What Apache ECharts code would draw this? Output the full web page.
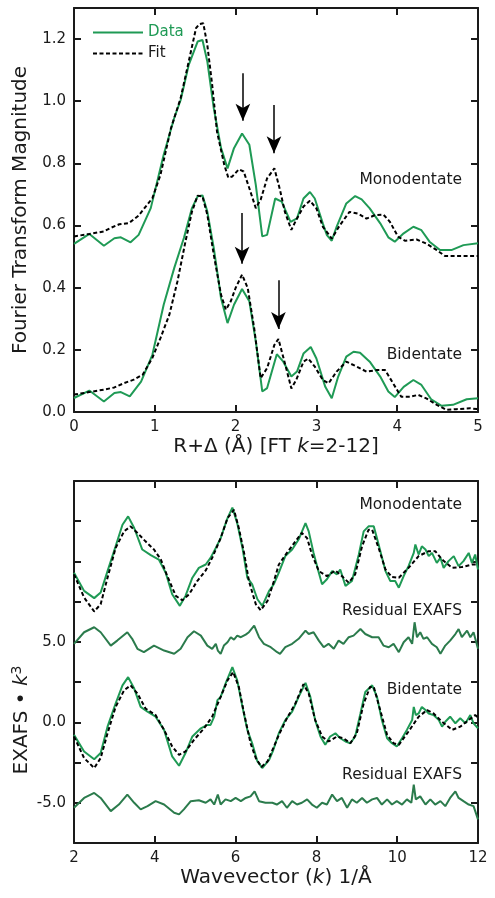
<!DOCTYPE html>
<html>
<head>
<meta charset="utf-8">
<title>FT magnitude and EXAFS fits</title>
<script src="https://cdn.jsdelivr.net/npm/echarts/dist/echarts.min.js"></script>
<style>
  html, body { margin: 0; padding: 0; background: #fff; }
  #container { width: 495px; height: 898px; }
</style>
</head>
<body>
<div id="container"></div>
<script>
// ---- data ----
// top panel: R (Å) vs |FT|
var ftMonoData = [[0,0.541],[0.19,0.573],[0.37,0.535],[0.50,0.559],[0.58,0.562],[0.70,0.546],[0.80,0.570],[0.95,0.656],[1.11,0.828],[1.24,0.946],[1.32,1.004],[1.42,1.117],[1.53,1.192],[1.59,1.197],[1.65,1.128],[1.73,0.977],[1.82,0.849],[1.90,0.784],[1.98,0.849],[2.08,0.896],[2.17,0.860],[2.25,0.731],[2.33,0.565],[2.39,0.570],[2.49,0.687],[2.57,0.677],[2.68,0.612],[2.76,0.623],[2.84,0.687],[2.92,0.708],[2.98,0.687],[3.08,0.606],[3.13,0.569],[3.19,0.551],[3.25,0.596],[3.37,0.671],[3.48,0.695],[3.56,0.684],[3.66,0.655],[3.79,0.607],[3.89,0.562],[3.97,0.548],[4.08,0.575],[4.20,0.596],[4.30,0.585],[4.40,0.548],[4.53,0.521],[4.67,0.521],[4.82,0.537],[5.00,0.543]];
var ftMonoFit = [[0,0.565],[0.19,0.573],[0.37,0.581],[0.45,0.592],[0.56,0.604],[0.68,0.608],[0.80,0.632],[0.97,0.688],[1.07,0.763],[1.20,0.913],[1.32,1.010],[1.42,1.128],[1.51,1.235],[1.55,1.248],[1.60,1.251],[1.65,1.181],[1.71,1.053],[1.77,0.902],[1.86,0.795],[1.91,0.754],[1.96,0.758],[2.04,0.781],[2.10,0.774],[2.17,0.720],[2.25,0.656],[2.31,0.683],[2.39,0.752],[2.48,0.784],[2.55,0.714],[2.61,0.644],[2.69,0.586],[2.75,0.618],[2.84,0.661],[2.92,0.680],[3.00,0.655],[3.08,0.596],[3.19,0.558],[3.29,0.601],[3.41,0.644],[3.52,0.638],[3.62,0.622],[3.72,0.633],[3.83,0.635],[3.91,0.612],[4.01,0.564],[4.10,0.551],[4.24,0.555],[4.36,0.542],[4.49,0.521],[4.59,0.502],[4.78,0.502],[5.00,0.502]];
var ftBiData = [[0,0.045],[0.19,0.069],[0.37,0.034],[0.50,0.061],[0.58,0.064],[0.69,0.050],[0.83,0.098],[0.97,0.184],[1.11,0.345],[1.24,0.463],[1.36,0.560],[1.46,0.656],[1.53,0.694],[1.59,0.697],[1.65,0.645],[1.73,0.527],[1.82,0.366],[1.90,0.286],[1.98,0.345],[2.08,0.396],[2.17,0.356],[2.25,0.227],[2.33,0.066],[2.39,0.077],[2.51,0.186],[2.59,0.162],[2.69,0.114],[2.76,0.130],[2.84,0.188],[2.93,0.209],[3.00,0.172],[3.11,0.081],[3.19,0.044],[3.27,0.114],[3.37,0.178],[3.46,0.194],[3.54,0.191],[3.66,0.162],[3.79,0.114],[3.89,0.066],[3.97,0.048],[4.08,0.081],[4.20,0.103],[4.30,0.087],[4.42,0.041],[4.55,0.020],[4.69,0.023],[4.86,0.041],[5.00,0.044]];
var ftBiFit = [[0,0.056],[0.19,0.064],[0.37,0.072],[0.50,0.079],[0.62,0.093],[0.74,0.104],[0.85,0.120],[0.97,0.174],[1.07,0.238],[1.18,0.313],[1.28,0.420],[1.38,0.549],[1.46,0.645],[1.53,0.696],[1.59,0.694],[1.65,0.635],[1.73,0.506],[1.82,0.377],[1.88,0.329],[1.94,0.356],[2.00,0.399],[2.08,0.442],[2.15,0.399],[2.23,0.270],[2.31,0.109],[2.39,0.141],[2.48,0.216],[2.53,0.235],[2.61,0.157],[2.69,0.076],[2.75,0.103],[2.84,0.162],[2.90,0.172],[2.98,0.146],[3.08,0.103],[3.15,0.092],[3.25,0.130],[3.37,0.162],[3.50,0.146],[3.62,0.130],[3.75,0.135],[3.85,0.135],[3.95,0.092],[4.05,0.049],[4.16,0.049],[4.26,0.055],[4.36,0.044],[4.49,0.023],[4.61,0.007],[4.73,0.009],[4.90,0.012],[5.00,0.009]];
// arrows: [R, y start, y tip]
var ftArrows = [[2.09,1.09,0.91],[2.475,0.988,0.806],[2.08,0.64,0.45],[2.53,0.424,0.24]];
var ftTickLabels = ['0.0','0.2','0.4','0.6','0.8','1.0','1.2'];

// bottom panel: k (1/Å) vs chi(k)*k^3, offset traces
var kMonoData = [[2.00,9.30],[2.25,8.17],[2.50,7.72],[2.66,8.07],[2.83,9.40],[3.03,10.94],[3.20,12.28],[3.34,12.80],[3.49,12.08],[3.69,10.74],[3.90,10.39],[4.10,10.12],[4.27,9.30],[4.43,7.96],[4.62,7.24],[4.76,7.86],[4.93,8.99],[5.09,9.60],[5.26,9.81],[5.38,10.22],[5.51,10.84],[5.63,11.45],[5.70,11.97],[5.80,12.69],[5.92,13.35],[6.04,12.38],[6.17,10.84],[6.29,8.99],[6.41,8.58],[6.54,7.65],[6.66,7.24],[6.83,8.17],[6.95,8.60],[7.07,9.30],[7.23,10.33],[7.40,10.74],[7.56,11.36],[7.73,12.38],[7.81,11.87],[7.93,10.53],[8.06,9.30],[8.14,8.58],[8.26,8.89],[8.39,9.40],[8.51,9.20],[8.59,9.50],[8.72,8.48],[8.88,8.78],[9.05,10.43],[9.17,11.87],[9.29,12.18],[9.42,12.18],[9.54,11.05],[9.71,9.40],[9.83,8.78],[9.95,8.78],[10.04,8.37],[10.16,9.09],[10.28,9.71],[10.41,10.53],[10.45,11.05],[10.53,10.43],[10.61,10.94],[10.70,10.74],[10.78,10.33],[10.86,10.53],[10.98,9.91],[11.07,10.22],[11.15,9.60],[11.27,10.02],[11.40,10.33],[11.52,9.71],[11.64,10.02],[11.77,10.53],[11.85,9.91],[11.93,10.43],[12.00,9.50]];
var kMonoFit = [[2.00,9.20],[2.25,7.76],[2.50,6.89],[2.66,7.34],[2.83,8.99],[3.03,10.84],[3.24,11.87],[3.40,12.18],[3.57,11.77],[3.77,11.25],[3.98,10.74],[4.15,10.12],[4.31,9.09],[4.52,7.86],[4.68,7.59],[4.85,7.96],[5.05,8.78],[5.26,9.44],[5.42,10.22],[5.63,11.45],[5.80,12.69],[5.96,13.21],[6.08,12.07],[6.21,10.53],[6.33,8.78],[6.50,7.34],[6.62,6.97],[6.79,7.55],[6.95,8.78],[7.07,9.81],[7.27,10.53],[7.48,11.25],[7.64,11.77],[7.77,11.45],[7.89,10.43],[8.06,9.40],[8.26,9.09],[8.47,9.44],[8.63,9.09],[8.80,8.68],[8.96,9.20],[9.13,10.94],[9.29,11.97],[9.38,11.97],[9.54,10.84],[9.71,9.50],[9.87,9.03],[10.04,8.99],[10.28,9.60],[10.53,10.33],[10.78,10.64],[10.94,10.64],[11.11,10.12],[11.36,9.60],[11.60,9.65],[11.85,9.81],[12.00,9.81]];
var kMonoResid = [[2.00,4.88],[2.25,5.60],[2.50,5.91],[2.66,5.60],[2.91,4.77],[3.07,5.08],[3.32,5.60],[3.44,5.19],[3.57,4.57],[3.73,4.36],[3.98,4.77],[4.23,4.46],[4.48,4.26],[4.64,4.57],[4.81,5.29],[4.97,5.66],[5.14,5.39],[5.30,4.77],[5.42,4.57],[5.51,4.88],[5.56,4.46],[5.63,4.26],[5.71,4.77],[5.80,4.98],[5.88,5.29],[5.96,5.14],[6.04,5.39],[6.13,5.29],[6.25,5.45],[6.33,5.60],[6.46,6.01],[6.58,5.29],[6.70,4.88],[6.87,4.67],[7.03,4.36],[7.10,4.26],[7.23,4.67],[7.40,4.88],[7.56,5.19],[7.73,5.70],[7.81,5.49],[7.93,5.60],[8.06,5.08],[8.18,4.67],[8.30,4.88],[8.43,4.57],[8.55,5.08],[8.67,4.88],[8.80,5.29],[8.92,5.39],[9.09,5.80],[9.21,5.49],[9.38,5.29],[9.54,5.29],[9.66,4.77],[9.79,4.67],[9.91,4.88],[10.04,4.36],[10.16,4.98],[10.28,5.29],[10.37,4.88],[10.43,6.22],[10.49,5.29],[10.57,5.60],[10.65,5.19],[10.74,5.29],[10.86,4.88],[10.98,4.67],[11.07,4.26],[11.19,4.77],[11.31,5.08],[11.44,5.49],[11.52,5.80],[11.60,5.29],[11.73,5.70],[11.81,5.29],[11.89,5.60],[12.00,4.57]];
var kBiData = [[2.00,-0.78],[2.25,-1.81],[2.50,-2.29],[2.66,-1.91],[2.83,-0.27],[3.03,1.17],[3.20,2.30],[3.34,2.81],[3.49,2.10],[3.65,0.96],[3.82,0.66],[4.02,0.35],[4.23,-0.47],[4.43,-2.12],[4.60,-2.70],[4.76,-1.91],[4.93,-0.88],[5.14,-0.37],[5.30,-0.16],[5.38,-0.16],[5.47,0.35],[5.55,1.38],[5.63,1.58],[5.75,2.40],[5.92,3.43],[6.04,2.61],[6.17,0.96],[6.29,-0.47],[6.41,-1.30],[6.54,-2.43],[6.66,-2.84],[6.83,-2.33],[6.92,-1.81],[7.07,-0.68],[7.23,0.14],[7.40,0.66],[7.56,1.58],[7.73,2.45],[7.85,1.58],[7.97,0.14],[8.10,-0.88],[8.22,-1.40],[8.34,-0.88],[8.47,-0.68],[8.59,-0.99],[8.72,-1.19],[8.84,-1.30],[8.96,-0.88],[9.09,0.55],[9.21,1.89],[9.38,2.30],[9.50,1.58],[9.62,0.14],[9.75,-0.99],[9.87,-1.30],[9.99,-1.50],[10.12,-0.99],[10.24,-0.47],[10.37,0.14],[10.41,0.96],[10.46,0.45],[10.53,0.55],[10.61,0.96],[10.70,0.76],[10.78,0.55],[10.90,0.45],[11.03,0.14],[11.11,-0.27],[11.19,0.04],[11.31,0.35],[11.44,-0.06],[11.56,0.25],[11.69,-0.06],[11.81,0.45],[11.89,-0.06],[12.00,-0.37]];
var kBiFit = [[2.00,-0.88],[2.25,-2.22],[2.50,-2.84],[2.66,-2.22],[2.83,-0.68],[3.03,0.96],[3.24,1.99],[3.40,2.30],[3.57,1.79],[3.77,0.86],[4.02,0.45],[4.23,-0.47],[4.43,-1.50],[4.60,-2.02],[4.76,-1.81],[4.97,-1.09],[5.22,-0.37],[5.42,0.35],[5.63,1.58],[5.80,2.61],[5.94,3.12],[6.08,2.20],[6.21,0.55],[6.37,-1.30],[6.50,-2.22],[6.64,-2.77],[6.79,-2.43],[6.95,-1.50],[7.07,-0.78],[7.27,0.25],[7.48,1.17],[7.68,2.37],[7.81,1.79],[7.97,0.14],[8.14,-0.88],[8.30,-1.19],[8.51,-0.88],[8.67,-0.99],[8.84,-1.30],[9.00,-0.68],[9.17,1.17],[9.33,2.20],[9.42,2.20],[9.58,0.76],[9.75,-0.78],[9.91,-1.30],[10.04,-1.40],[10.28,-0.57],[10.53,0.35],[10.74,0.76],[10.90,0.55],[11.11,0.04],[11.36,-0.47],[11.56,-0.27],[11.77,0.14],[11.93,0.45],[12.00,0.30]];
var kBiResid = [[2.00,-5.31],[2.25,-4.70],[2.50,-4.39],[2.66,-4.70],[2.91,-5.52],[3.11,-5.11],[3.32,-4.49],[3.49,-5.00],[3.65,-5.41],[3.82,-5.21],[4.02,-4.90],[4.23,-5.11],[4.48,-5.62],[4.60,-5.72],[4.72,-5.41],[4.89,-4.90],[5.09,-4.84],[5.26,-5.00],[5.38,-4.79],[5.47,-5.11],[5.56,-4.49],[5.63,-5.11],[5.75,-4.79],[5.88,-4.90],[6.00,-4.70],[6.13,-4.90],[6.25,-4.70],[6.37,-4.60],[6.47,-4.29],[6.58,-4.90],[6.74,-5.00],[6.91,-5.00],[7.02,-5.11],[7.15,-4.90],[7.27,-5.31],[7.40,-4.90],[7.52,-5.11],[7.64,-5.00],[7.77,-4.79],[7.89,-5.11],[8.01,-5.31],[8.14,-5.00],[8.26,-5.11],[8.39,-4.49],[8.51,-4.90],[8.63,-4.70],[8.76,-5.31],[8.88,-4.79],[9.00,-5.00],[9.13,-4.70],[9.25,-5.00],[9.38,-4.79],[9.50,-4.70],[9.62,-5.11],[9.75,-4.79],[9.87,-5.11],[9.99,-4.90],[10.12,-5.11],[10.24,-4.79],[10.35,-5.00],[10.41,-3.87],[10.46,-4.79],[10.57,-4.60],[10.70,-5.11],[10.82,-4.79],[10.94,-5.11],[11.07,-4.90],[11.19,-5.21],[11.31,-4.70],[11.44,-4.29],[11.52,-4.70],[11.64,-4.90],[11.77,-5.11],[11.89,-5.21],[12.00,-6.03]];
var exafsTickLabels = ['-5.0','0.0','5.0'];

// ---- styling ----
var FONT = 'DejaVu Sans';
var INK = '#1a1a1a';
var GREEN = '#1f9a55';
var DARK_GREEN = '#2b7b4c';

function valueAxis(grid, pos, min, max, step, labels) {
    return {
        type: 'value', gridIndex: grid, position: pos,
        min: min, max: max, interval: step,
        axisLine: { show: true, onZero: false, lineStyle: { color: INK, width: 2 } },
        axisTick: { show: true, inside: true, length: 7, lineStyle: { color: INK, width: 2 } },
        axisLabel: labels ? {
            show: true, margin: 8, fontFamily: FONT, fontSize: 15, color: INK,
            formatter: labels
        } : { show: false },
        splitLine: { show: false }
    };
}

function line(name, data, color, dashed, xi, yi) {
    return {
        name: name, type: 'line', data: data,
        xAxisIndex: xi, yAxisIndex: yi,
        symbol: 'none', showSymbol: false, smooth: false,
        lineStyle: { color: color, width: 2, type: dashed ? [4, 2.5] : 'solid' },
        itemStyle: { color: color },
        emphasis: { disabled: true },
        silent: true
    };
}

var ftX = valueAxis(0, 'bottom', 0, 5, 1, function (v) { return String(Math.round(v)); });
ftX.name = '{n|R+Δ (Å) [FT }{i|k}{n|=2-12]}';
ftX.nameLocation = 'middle';
ftX.nameGap = 25;
ftX.nameTextStyle = { rich: {
    n: { fontFamily: FONT, fontSize: 20, color: INK },
    i: { fontFamily: FONT, fontSize: 20, color: INK, fontStyle: 'italic' }
} };

var ftY = valueAxis(0, 'left', 0, 1.3, 0.2, function (v) {
    var s = v.toFixed(1);
    return ftTickLabels.indexOf(s) >= 0 ? s : '';
});
ftY.name = 'Fourier Transform Magnitude';
ftY.nameLocation = 'middle';
ftY.nameGap = 42;
ftY.nameTextStyle = { fontFamily: FONT, fontSize: 20, color: INK };

var kX = valueAxis(1, 'bottom', 2, 12, 2, function (v) { return String(Math.round(v)); });
kX.name = '{n|Wavevector (}{i|k}{n|) 1/Å}';
kX.nameLocation = 'middle';
kX.nameGap = 25;
kX.nameTextStyle = ftX.nameTextStyle;

var kY = valueAxis(1, 'left', -7.5, 15, 2.5, function (v) {
    var s = v.toFixed(1);
    return exafsTickLabels.indexOf(s) >= 0 ? s : '';
});

var arrowLines = ftArrows.map(function (a) {
    // the arrow head is centred on the end point, so stop a little above the tip
    return [
        { coord: [a[0], a[1]], symbol: 'none' },
        { coord: [a[0], a[2] + 0.027], symbol: 'arrow', symbolSize: [11, 17] }
    ];
});

var monoSeries = line('Data', ftMonoData, GREEN, false, 0, 0);
monoSeries.markLine = {
    silent: true, animation: false,
    symbol: ['none', 'arrow'], symbolSize: 14,
    lineStyle: { color: '#000', width: 1.5, type: 'solid' },
    label: { show: false },
    emphasis: { disabled: true },
    data: arrowLines
};

function note(text, x, y) {
    return {
        type: 'text', x: x, y: y, silent: true,
        style: { text: text, fontFamily: FONT, fontSize: 15.5, fill: INK, align: 'right', verticalAlign: 'middle' }
    };
}

var myChart = echarts.init(document.getElementById('container'), null, { renderer: 'canvas' });
myChart.setOption({
    animation: false,
    backgroundColor: '#fff',
    grid: [
        { left: 74, top: 8, width: 404, height: 404 },
        { left: 74, top: 481, width: 404, height: 362 }
    ],
    xAxis: [ftX, valueAxis(0, 'top', 0, 5, 1, null), kX, valueAxis(1, 'top', 2, 12, 2, null)],
    yAxis: [ftY, valueAxis(0, 'right', 0, 1.3, 0.2, null), kY, valueAxis(1, 'right', -7.5, 15, 2.5, null)],
    legend: {
        data: [{ name: 'Data', textStyle: { color: GREEN } }, { name: 'Fit' }],
        orient: 'vertical', left: 92, top: 25, padding: 0,
        itemWidth: 50, itemHeight: 14, itemGap: 6,
        selectedMode: false,
        itemStyle: { opacity: 0 },
        textStyle: { fontFamily: FONT, fontSize: 15, color: INK }
    },
    graphic: [
        note('Monodentate', 462, 180),
        note('Bidentate', 462, 355),
        note('Monodentate', 462, 505),
        note('Residual EXAFS', 462, 611),
        note('Bidentate', 462, 690),
        note('Residual EXAFS', 462, 775),
        {
            type: 'text', x: 22, y: 720, rotation: Math.PI / 2, silent: true,
            style: {
                text: '{n|EXAFS • }{i|k}{s|3}', align: 'center', verticalAlign: 'middle',
                rich: {
                    n: { fontFamily: FONT, fontSize: 20, fill: INK, lineHeight: 24 },
                    i: { fontFamily: FONT, fontSize: 20, fill: INK, fontStyle: 'italic', lineHeight: 24 },
                    s: { fontFamily: FONT, fontSize: 14, fill: INK, verticalAlign: 'top', lineHeight: 14 }
                }
            }
        }
    ],
    series: [
        monoSeries,
        line('Fit', ftMonoFit, '#000', true, 0, 0),
        line('Data', ftBiData, GREEN, false, 0, 0),
        line('Fit', ftBiFit, '#000', true, 0, 0),
        line('Data', kMonoData, GREEN, false, 2, 2),
        line('Fit', kMonoFit, '#000', true, 2, 2),
        line('Residual', kMonoResid, DARK_GREEN, false, 2, 2),
        line('Data', kBiData, GREEN, false, 2, 2),
        line('Fit', kBiFit, '#000', true, 2, 2),
        line('Residual', kBiResid, DARK_GREEN, false, 2, 2)
    ]
});
</script>
</body>
</html>
